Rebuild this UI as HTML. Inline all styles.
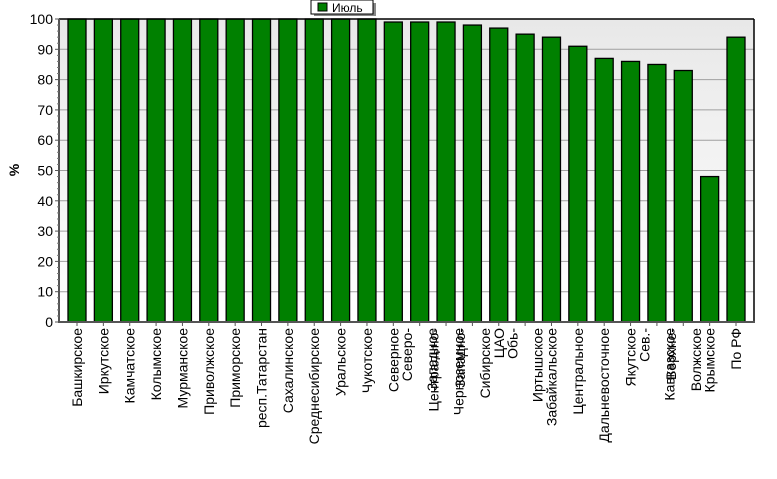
<!DOCTYPE html>
<html><head><meta charset="utf-8"><style>
html,body{margin:0;padding:0;background:#fff;}
svg{display:block;font-family:"Liberation Sans","DejaVu Sans",sans-serif;}
</style></head><body>
<svg id="chart" width="777" height="479" xmlns="http://www.w3.org/2000/svg">
<defs>
<linearGradient id="bg" x1="0" y1="0" x2="0" y2="1">
<stop offset="0" stop-color="#e8e8e8"/><stop offset="1" stop-color="#ffffff"/>
</linearGradient>
</defs>
<rect x="59" y="19" width="695" height="303" fill="url(#bg)"/>
<g id="grid"></g>
<g id="bars"></g>
<line x1="59" y1="19" x2="754" y2="19" stroke="#000" stroke-width="1.5"/>
<line x1="754" y1="19" x2="754" y2="322" stroke="#000" stroke-width="1.5"/>
<line x1="59" y1="19" x2="59" y2="323" stroke="#555" stroke-width="2"/>
<line x1="58" y1="322" x2="755" y2="322" stroke="#555" stroke-width="2"/>
<g id="yticks"></g>
<g id="xlabels"></g>
<text x="19" y="170" font-size="14" font-weight="bold" text-anchor="middle" transform="rotate(-90 19 170)">%</text>
<g>
<rect x="314" y="3" width="62" height="13" fill="#888"/>
<rect x="311" y="0" width="62" height="14" fill="#fff" stroke="#000" stroke-width="1"/>
<rect x="318" y="3" width="9" height="8" fill="#008000" stroke="#000" stroke-width="1"/>
<text x="332" y="12" font-size="12">Июль</text>
</g>
</svg>
<script>
const categories = [["Башкирское"],["Иркутское"],["Камчатское"],["Колымское"],["Мурманское"],["Приволжское"],["Приморское"],["респ.Татарстан"],["Сахалинское"],["Среднесибирское"],["Уральское"],["Чукотское"],["Северное"],["Северо-","Западное"],["Центрально-","Черноземное"],["Западно-","Сибирское"],["ЦАО"],["Обь-","Иртышское"],["Забайкальское"],["Центральное"],["Дальневосточное"],["Якутское"],["Сев.-","Кавказское"],["Верхне-","Волжское"],["Крымское"],["По РФ"]];
const values = [100,100,100,100,100,100,100,100,100,100,100,100,99,99,99,98,97,95,94,91,87,86,85,83,48,94];
const yTicks = [0,10,20,30,40,50,60,70,80,90,100];

const NS = "http://www.w3.org/2000/svg";
const y0 = 322, yTop = 19, yMin = 0, yMax = 100;
const yScale = v => y0 - (v - yMin) / (yMax - yMin) * (y0 - yTop);
const firstC = 77, pitch = 26.36, barW = 18;
const xScale = i => firstC + i * pitch;
function mk(tag, attrs, parent){const e=document.createElementNS(NS,tag);for(const k in attrs)e.setAttribute(k,attrs[k]);parent.appendChild(e);return e;}

const grid = document.getElementById('grid'), yt = document.getElementById('yticks');
yTicks.forEach(t => {
  const y = yScale(t);
  if (t > 0 && t < 100) {
    const g = mk('line',{x1:59,x2:754,y1:y,y2:y,stroke:'#a0a0a0','stroke-width':1},grid);
    
    
  }
  const tk = mk('line',{x1:55,x2:59,y1:y,y2:y,stroke:'#555','stroke-width':1},yt);
  
  
  const lb = mk('text',{x:53,y:y+5,'font-size':14,'text-anchor':'end'},yt);
  lb.textContent = t;
  
  
});
for (let v = 2; v < 100; v += 2) {
  if (v % 10 === 0) continue;
  const m = mk('line',{x1:57,x2:59,y1:yScale(v),y2:yScale(v),stroke:'#777','stroke-width':1},yt);
  
  
}

const bars = document.getElementById('bars'), xl = document.getElementById('xlabels');
values.forEach((v, i) => {
  const cx = xScale(i), y = yScale(v);
  const b = mk('rect',{x:cx-barW/2,y:y,width:barW,height:y0-y,fill:'#008000',stroke:'#000','stroke-width':1.3},bars);
  
  
  const tk = mk('line',{x1:cx,x2:cx,y1:322,y2:326,stroke:'#555','stroke-width':1},xl);
  
  
  const lines = categories[i];
  lines.forEach((ln, j) => {
    const off = lines.length === 1 ? 0 : (j === 0 ? -12.5 : 12.5);
    const bx = cx + off + 5, by = 328;
    const t = mk('text',{x:bx,y:by,'font-size':14,'text-anchor':'end',transform:`rotate(-90 ${bx} ${by})`},xl);
    t.textContent = ln;
    
    
  });
});
</script>
</body></html>
